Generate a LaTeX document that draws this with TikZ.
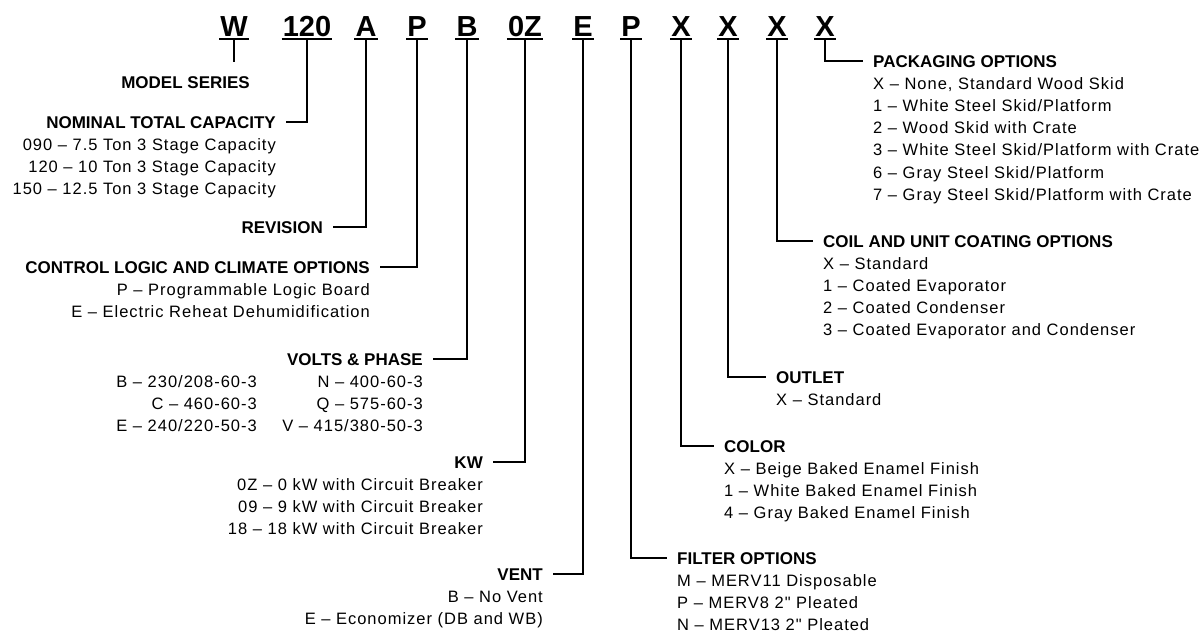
\documentclass[tikz,border=0pt]{standalone}
\usepackage{fontspec}
\setmainfont{Liberation Sans}
\newfontfamily\optfam{Liberation Sans}[LetterSpace=6]

\newcommand{\optsR}[1]{\begin{tabular}[t]{@{}r@{}}#1\end{tabular}}
\newcommand{\optsL}[1]{\begin{tabular}[t]{@{}l@{}}#1\end{tabular}}

\tikzset{
	code/.style={font=\fontsize{29}{29}\selectfont\bfseries, inner xsep=1pt, inner ysep=0pt, text depth=3pt, anchor=base},
	head/.style={font=\fontsize{17}{20}\selectfont\bfseries, inner sep=0pt, text depth=0pt},
	opts/.style={font=\fontsize{16.5}{22.2}\selectfont\optfam, inner sep=0pt},
	link/.style={line width=2.2pt},
}

\begin{document}
\begin{tikzpicture}[x=1pt, y=-1pt]
	\useasboundingbox (0,0) rectangle (1201,632);
	
	% Model number
	\node[code] (cW)   at (234,36) {W};
	\node[code] (c120) at (307,36) {120};
	\node[code] (cA)   at (366,36) {A};
	\node[code] (cP)   at (417,36) {P};
	\node[code] (cB)   at (467,36) {B};
	\node[code] (cKw)  at (525,36) {0Z};
	\node[code] (cE)   at (583,36) {E};
	\node[code] (cF)   at (631,36) {P};
	\node[code] (cXa)  at (681,36) {X};
	\node[code] (cXb)  at (728,36) {X};
	\node[code] (cXc)  at (777,36) {X};
	\node[code] (cXd)  at (825,36) {X};
	\foreach \c in {cW,c120,cA,cP,cB,cKw,cE,cF,cXa,cXb,cXc,cXd}
		\draw[line width=2pt] (\c.south west) -- (\c.south east);
	
	% Headings (left)
	\node[head, anchor=base east] (hSeries) at (250,88)  {MODEL SERIES};
	\node[head, anchor=base east] (hCap)    at (276,128) {NOMINAL TOTAL CAPACITY};
	\node[head, anchor=base east] (hRev)    at (323,233) {REVISION};
	\node[head, anchor=base east] (hCtrl)   at (370,273) {CONTROL LOGIC AND CLIMATE OPTIONS};
	\node[head, anchor=base east] (hVolt)   at (423,365) {VOLTS \& PHASE};
	\node[head, anchor=base east] (hKw)     at (483,468) {KW};
	\node[head, anchor=base east] (hVent)   at (543,580) {VENT};
	
	% Headings (right)
	\node[head, anchor=base west] (hFilter) at (677,564) {FILTER OPTIONS};
	\node[head, anchor=base west] (hColor)  at (724,452) {COLOR};
	\node[head, anchor=base west] (hOutlet) at (776,383) {OUTLET};
	\node[head, anchor=base west] (hCoil)   at (823,247) {COIL AND UNIT COATING OPTIONS};
	\node[head, anchor=base west] (hPack)   at (873,67)  {PACKAGING OPTIONS};
	
	% Option lists
	\node[opts, anchor=base east] (capOpts) at ([yshift=-22.3pt]hCap.base east)
		{\optsR{090 – 7.5 Ton 3 Stage Capacity\\120 – 10 Ton 3 Stage Capacity\\150 – 12.5 Ton 3 Stage Capacity}};
	\node[opts, anchor=base east] (ctrlOpts) at ([yshift=-22.3pt]hCtrl.base east)
		{\optsR{P – Programmable Logic Board\\E – Electric Reheat Dehumidification}};
	\node[opts, anchor=base east] (voltOptsA) at (257,387)
		{\optsR{B – 230/208-60-3\\C – 460-60-3\\E – 240/220-50-3}};
	\node[opts, anchor=base east] (voltOptsB) at ([yshift=-22.3pt]hVolt.base east)
		{\optsR{N – 400-60-3\\Q – 575-60-3\\V – 415/380-50-3}};
	\node[opts, anchor=base east] (kwOpts) at ([yshift=-22.3pt]hKw.base east)
		{\optsR{0Z – 0 kW with Circuit Breaker\\09 – 9 kW with Circuit Breaker\\18 – 18 kW with Circuit Breaker}};
	\node[opts, anchor=base east] (ventOpts) at ([yshift=-22.3pt]hVent.base east)
		{\optsR{B – No Vent\\E – Economizer (DB and WB)}};
	\node[opts, anchor=base west] (filterOpts) at ([yshift=-22.3pt]hFilter.base west)
		{\optsL{M – MERV11 Disposable\\P – MERV8 2" Pleated\\N – MERV13 2" Pleated}};
	\node[opts, anchor=base west] (colorOpts) at ([yshift=-22.3pt]hColor.base west)
		{\optsL{X – Beige Baked Enamel Finish\\1 – White Baked Enamel Finish\\4 – Gray Baked Enamel Finish}};
	\node[opts, anchor=base west] (outletOpts) at ([yshift=-22.3pt]hOutlet.base west)
		{\optsL{X – Standard}};
	\node[opts, anchor=base west] (coilOpts) at ([yshift=-22.3pt]hCoil.base west)
		{\optsL{X – Standard\\1 – Coated Evaporator\\2 – Coated Condenser\\3 – Coated Evaporator and Condenser}};
	\node[opts, anchor=base west] (packOpts) at ([yshift=-22.3pt]hPack.base west)
		{\optsL{X – None, Standard Wood Skid\\1 – White Steel Skid/Platform\\2 – Wood Skid with Crate\\3 – White Steel Skid/Platform with Crate\\6 – Gray Steel Skid/Platform\\7 – Gray Steel Skid/Platform with Crate}};
	
	% Connections
	\coordinate (seriesEnd) at (234,62);
	\draw[link] (cW.south) -- (seriesEnd);
	\draw[link] (c120.south) |- ([xshift=10pt]hCap.east);
	\draw[link] (cA.south)   |- ([xshift=10pt]hRev.east);
	\draw[link] (cP.south)   |- ([xshift=10pt]hCtrl.east);
	\draw[link] (cB.south)   |- ([xshift=10pt]hVolt.east);
	\draw[link] (cKw.south)  |- ([xshift=10pt]hKw.east);
	\draw[link] (cE.south)   |- ([xshift=10pt]hVent.east);
	\draw[link] (cF.south)   |- ([xshift=-10pt]hFilter.west);
	\draw[link] (cXa.south)  |- ([xshift=-10pt]hColor.west);
	\draw[link] (cXb.south)  |- ([xshift=-10pt]hOutlet.west);
	\draw[link] (cXc.south)  |- ([xshift=-10pt]hCoil.west);
	\draw[link] (cXd.south)  |- ([xshift=-10pt]hPack.west);
\end{tikzpicture}
\end{document}
